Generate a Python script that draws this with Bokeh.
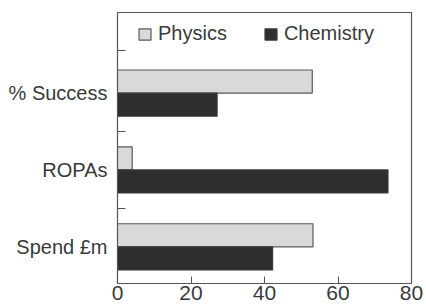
from bokeh.plotting import figure
from bokeh.models import ColumnDataSource, FixedTicker, Range1d, Legend
from bokeh.transform import dodge
from bokeh.embed import file_html
from bokeh.resources import INLINE

categories = ["% Success", "ROPAs", "Spend £m"]
ypos = [3, 2, 1]
physics = [53, 4, 53.2]
chemistry = [27.1, 73.6, 42.2]
x_ticks = [0, 20, 40, 60, 80]

src = ColumnDataSource(dict(y=ypos, cat=categories, physics=physics, chemistry=chemistry))

FONT = "Liberation Sans"
TXT = "#3a3a3a"

p = figure(width=426, height=305, output_backend="svg", toolbar_location=None,
           x_range=Range1d(0, 80), y_range=Range1d(0.523, 4.048),
           min_border_left=117, min_border_right=15, min_border_top=12, min_border_bottom=22)
p.grid.visible = False
p.outline_line_color = "#555555"
p.outline_line_width = 1.2
p.background_fill_color = "white"
p.border_fill_color = "white"

r1 = p.hbar(y=dodge("y", 0.15), right="physics", left=0, height=0.3, source=src,
            fill_color="#d9d9d9", line_color="#5a5a5a", line_width=1.2)
r2 = p.hbar(y=dodge("y", -0.15), right="chemistry", left=0, height=0.3, source=src,
            fill_color="#2e2e2e", line_color="#3a3a3a", line_width=1.2)

legend = Legend(items=[("Physics", [r1]), ("Chemistry", [r2])], orientation="horizontal",
                location=(20, 238), padding=0, margin=0, spacing=36,
                glyph_width=15, glyph_height=14, label_standoff=6,
                label_text_font=FONT, label_text_font_size="20px", label_text_color=TXT,
                border_line_color=None, background_fill_alpha=0)
p.add_layout(legend)

xa = p.xaxis[0]
xa.ticker = FixedTicker(ticks=x_ticks)
xa.major_tick_in = 7
xa.major_tick_out = 0
xa.minor_tick_line_color = None
xa.axis_line_color = "#555555"
xa.major_tick_line_color = "#555555"
xa.major_label_text_font = FONT
xa.major_label_text_font_size = "21px"
xa.major_label_text_color = TXT
xa.major_label_standoff = 2

ya = p.yaxis[0]
ya.ticker = FixedTicker(ticks=ypos, minor_ticks=[1.5, 2.5, 3.55])
ya.major_label_overrides = {y: c for y, c in zip(ypos, categories)}
ya.major_tick_in = 0
ya.major_tick_out = 0
ya.minor_tick_in = 8
ya.minor_tick_out = 0
ya.minor_tick_line_color = "#555555"
ya.axis_line_color = "#555555"
ya.major_label_text_font = FONT
ya.major_label_text_font_size = "20px"
ya.major_label_text_color = TXT
ya.major_label_standoff = 10

open("out.html", "w").write(file_html(p, INLINE))
